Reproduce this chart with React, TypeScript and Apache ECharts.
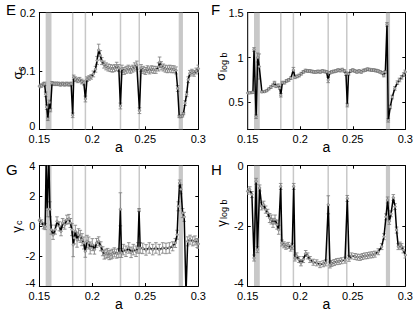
import React, { useEffect, useRef } from "react";
import * as echarts from "echarts";

type Pt = [number, number, number];

const xTicks = [0.15, 0.2, 0.25, 0.3];
const yTicksE = [0, 0.1, 0.2];
const yTicksF = [0.5, 1, 1.5];
const yTicksG = [-4, -2, 0, 2, 4];
const yTicksH = [-4, -2, 0];

const bandRanges: [number, number][] = [
  [0.156, 0.1615],
  [0.2815, 0.2855],
];
const edgeBandF: [number, number][] = [[0.15, 0.1507]];
const thinLines = [0.1815, 0.1935, 0.2266, 0.2443];

// [a, value, error]
const sigmaC: Pt[] = [
  [0.15, 0.074, 0.003], [0.152, 0.075, 0.003], [0.154, 0.077, 0.003], [0.155, 0.078, 0.003],
  [0.156, 0.06, 0.004], [0.157, 0.038, 0.004], [0.158, 0.018, 0.003], [0.1595, 0.046, 0.004],
  [0.1605, 0.033, 0.003], [0.162, 0.079, 0.003], [0.164, 0.078, 0.003], [0.166, 0.078, 0.003],
  [0.168, 0.078, 0.003], [0.17, 0.077, 0.003], [0.172, 0.078, 0.003], [0.174, 0.077, 0.003],
  [0.176, 0.078, 0.003], [0.178, 0.077, 0.003], [0.18, 0.078, 0.003], [0.1815, 0.024, 0.004],
  [0.1825, 0.089, 0.004], [0.184, 0.086, 0.004], [0.186, 0.084, 0.004], [0.188, 0.085, 0.004],
  [0.19, 0.082, 0.004], [0.192, 0.08, 0.004], [0.1935, 0.052, 0.005], [0.195, 0.086, 0.004],
  [0.197, 0.088, 0.004], [0.199, 0.09, 0.004], [0.201, 0.095, 0.005], [0.203, 0.103, 0.005],
  [0.2045, 0.118, 0.007], [0.206, 0.136, 0.01], [0.2075, 0.127, 0.008], [0.209, 0.117, 0.006],
  [0.211, 0.111, 0.006], [0.213, 0.108, 0.006], [0.215, 0.106, 0.006], [0.217, 0.105, 0.006],
  [0.219, 0.104, 0.006], [0.221, 0.105, 0.006], [0.223, 0.108, 0.007], [0.225, 0.105, 0.006],
  [0.2265, 0.04, 0.005], [0.228, 0.104, 0.006], [0.23, 0.1, 0.006], [0.232, 0.102, 0.006],
  [0.234, 0.104, 0.006], [0.236, 0.102, 0.006], [0.238, 0.104, 0.006], [0.24, 0.107, 0.007],
  [0.242, 0.11, 0.007], [0.2445, 0.032, 0.005], [0.246, 0.105, 0.006], [0.248, 0.102, 0.006],
  [0.25, 0.1, 0.006], [0.252, 0.103, 0.006], [0.254, 0.101, 0.006], [0.256, 0.103, 0.006],
  [0.258, 0.102, 0.006], [0.26, 0.102, 0.006], [0.2625, 0.107, 0.007], [0.2635, 0.115, 0.009],
  [0.265, 0.109, 0.007], [0.267, 0.106, 0.006], [0.269, 0.104, 0.006], [0.271, 0.103, 0.006],
  [0.273, 0.104, 0.006], [0.275, 0.103, 0.006], [0.277, 0.103, 0.006], [0.279, 0.101, 0.006],
  [0.2805, 0.07, 0.005], [0.282, 0.022, 0.002], [0.2835, 0.022, 0.002], [0.285, 0.023, 0.002],
  [0.286, 0.027, 0.002], [0.2875, 0.045, 0.004], [0.289, 0.06, 0.004], [0.2905, 0.085, 0.005],
  [0.292, 0.096, 0.005], [0.294, 0.098, 0.005], [0.296, 0.096, 0.005], [0.298, 0.1, 0.005],
  [0.3, 0.104, 0.006],
];

const sigmaLogB: Pt[] = [
  [0.15, 0.605, 0.01], [0.152, 0.607, 0.01], [0.154, 0.61, 0.01], [0.155, 0.612, 0.01],
  [0.156, 1.09, 0.02], [0.158, 0.34, 0.02], [0.1595, 1.0, 0.05], [0.161, 0.9, 0.14],
  [0.1635, 0.618, 0.01], [0.166, 0.62, 0.01], [0.168, 0.63, 0.01], [0.17, 0.65, 0.01],
  [0.172, 0.67, 0.015], [0.174, 0.69, 0.015], [0.1755, 0.72, 0.015], [0.177, 0.68, 0.015],
  [0.179, 0.69, 0.015], [0.1805, 0.66, 0.015], [0.1815, 0.58, 0.02], [0.183, 0.72, 0.015],
  [0.185, 0.72, 0.015], [0.187, 0.74, 0.015], [0.189, 0.75, 0.015], [0.191, 0.77, 0.015],
  [0.1935, 0.86, 0.03], [0.195, 0.78, 0.015], [0.197, 0.79, 0.015], [0.199, 0.8, 0.015],
  [0.201, 0.82, 0.015], [0.203, 0.84, 0.015], [0.205, 0.855, 0.015], [0.207, 0.85, 0.015],
  [0.209, 0.85, 0.015], [0.211, 0.845, 0.015], [0.213, 0.84, 0.015], [0.215, 0.84, 0.015],
  [0.217, 0.845, 0.015], [0.219, 0.84, 0.015], [0.221, 0.85, 0.015], [0.223, 0.845, 0.015],
  [0.225, 0.84, 0.015], [0.2266, 0.75, 0.03], [0.228, 0.83, 0.015], [0.23, 0.84, 0.015],
  [0.232, 0.845, 0.015], [0.234, 0.85, 0.015], [0.236, 0.86, 0.015], [0.238, 0.855, 0.015],
  [0.24, 0.865, 0.015], [0.242, 0.85, 0.015], [0.2435, 0.82, 0.02], [0.2448, 0.47, 0.02],
  [0.246, 0.82, 0.015], [0.248, 0.85, 0.015], [0.25, 0.86, 0.015], [0.252, 0.85, 0.015],
  [0.254, 0.84, 0.015], [0.256, 0.85, 0.015], [0.258, 0.84, 0.015], [0.26, 0.855, 0.015],
  [0.262, 0.86, 0.015], [0.264, 0.87, 0.015], [0.266, 0.865, 0.015], [0.268, 0.86, 0.015],
  [0.27, 0.86, 0.015], [0.272, 0.855, 0.015], [0.274, 0.85, 0.015], [0.276, 0.84, 0.015],
  [0.278, 0.83, 0.015], [0.2795, 0.8, 0.015], [0.281, 0.84, 0.015], [0.2826, 1.37, 0.02],
  [0.2838, 0.3, 0.02], [0.2857, 0.45, 0.02], [0.2876, 0.56, 0.02], [0.29, 0.655, 0.02],
  [0.2925, 0.72, 0.02], [0.2945, 0.75, 0.02], [0.2965, 0.78, 0.02], [0.2985, 0.81, 0.02],
  [0.3, 0.84, 0.02],
];

const gammaC: Pt[] = [
  [0.15, 0.37, 0.15], [0.152, 0.25, 0.15], [0.154, 0.0, 0.2], [0.1555, -0.05, 0.2],
  [0.1565, 4.5, 0.5], [0.1575, 1.1, 0.5], [0.159, 4.5, 0.5], [0.16, 1.1, 0.5],
  [0.1613, -0.25, 0.3], [0.163, -0.6, 0.3], [0.165, -0.25, 0.3], [0.1667, 0.3, 0.3],
  [0.169, -0.03, 0.3], [0.1705, -0.36, 0.3], [0.172, 0.19, 0.3], [0.174, 0.08, 0.3],
  [0.176, 0.41, 0.3], [0.178, 0.46, 0.3], [0.1793, 0.19, 0.3], [0.1808, -0.25, 0.4],
  [0.182, -1.25, 0.8], [0.183, -0.8, 0.4], [0.184, -0.36, 0.4], [0.1856, -0.92, 0.5],
  [0.187, -0.59, 0.4], [0.1887, -0.7, 0.4], [0.1903, -0.92, 0.4], [0.192, -1.14, 0.4],
  [0.1934, -1.69, 0.4], [0.195, -1.03, 0.4], [0.1966, -1.14, 0.4], [0.198, -1.47, 0.4],
  [0.2, -1.25, 0.4], [0.202, -1.58, 0.3], [0.204, -1.14, 0.3], [0.206, -1.03, 0.3],
  [0.208, -1.36, 0.3], [0.2098, -1.69, 0.3], [0.2113, -1.91, 0.3], [0.213, -1.85, 0.3],
  [0.2145, -1.8, 0.3], [0.216, -1.95, 0.3], [0.2176, -1.91, 0.3], [0.219, -1.85, 0.3],
  [0.2208, -1.76, 0.3], [0.223, -1.85, 0.3], [0.225, -1.8, 0.3], [0.2265, 1.1, 1.1],
  [0.2275, -1.8, 0.3], [0.2293, -1.58, 0.35], [0.2318, -1.69, 0.35], [0.2344, -1.47, 0.35],
  [0.2366, -1.76, 0.35], [0.2387, -1.58, 0.35], [0.2413, -1.69, 0.35], [0.243, -1.47, 0.35],
  [0.2441, 1.05, 0.1], [0.2452, -1.47, 0.35], [0.2476, -1.5, 0.35], [0.2507, -1.6, 0.35],
  [0.2538, -1.47, 0.35], [0.257, -1.58, 0.35], [0.26, -1.47, 0.35], [0.2632, -1.58, 0.35],
  [0.2664, -1.47, 0.35], [0.2695, -1.5, 0.35], [0.2727, -1.47, 0.35], [0.2758, -1.36, 0.3],
  [0.2783, -1.14, 0.3], [0.28, -0.59, 0.3], [0.2811, 1.3, 0.3], [0.2824, 2.85, 0.2],
  [0.2836, 2.43, 0.3], [0.2852, 0.85, 0.3], [0.2867, 0.6, 0.3], [0.2884, -4.5, 0.3],
  [0.29, -1.03, 0.3], [0.2922, -0.92, 0.3], [0.2947, -1.03, 0.3], [0.2969, -0.97, 0.3],
  [0.299, -1.14, 0.3], [0.3, -1.2, 0.3],
];

const gammaLogB: Pt[] = [
  [0.15, -0.85, 0.1], [0.152, -0.8, 0.1], [0.154, -0.96, 0.1], [0.156, -3.07, 0.1],
  [0.158, -0.52, 0.1], [0.1592, -2.79, 0.1], [0.1614, -0.74, 0.1], [0.1633, -1.35, 0.12],
  [0.1652, -1.3, 0.12], [0.1671, -1.46, 0.12], [0.169, -1.57, 0.12], [0.1709, -1.74, 0.15],
  [0.1725, -1.79, 0.15], [0.1741, -1.9, 0.15], [0.176, -1.79, 0.15], [0.1779, -1.96, 0.15],
  [0.1795, -2.13, 0.15], [0.1814, -0.69, 0.1], [0.1826, -2.57, 0.1], [0.1845, -2.63, 0.1],
  [0.1864, -2.68, 0.1], [0.1886, -2.65, 0.1], [0.1909, -2.74, 0.1], [0.1924, -2.68, 0.1],
  [0.1938, -0.69, 0.1], [0.195, -3.07, 0.1], [0.1966, -3.0, 0.1], [0.1988, -3.12, 0.1],
  [0.2007, -3.23, 0.1], [0.2029, -3.12, 0.1], [0.2052, -2.92, 0.1], [0.2071, -3.0, 0.1],
  [0.2093, -3.12, 0.1], [0.2124, -3.21, 0.1], [0.2157, -3.23, 0.1], [0.2188, -3.29, 0.1],
  [0.2219, -3.26, 0.1], [0.2242, -3.23, 0.1], [0.2267, -1.3, 0.3], [0.2283, -3.3, 0.1],
  [0.2299, -3.25, 0.1], [0.2323, -3.22, 0.1], [0.2347, -3.19, 0.1], [0.237, -3.18, 0.1],
  [0.2394, -3.16, 0.1], [0.2426, -3.14, 0.1], [0.2448, -1.09, 0.1], [0.2464, -3.08, 0.1],
  [0.2489, -3.0, 0.1], [0.2521, -3.02, 0.1], [0.2545, -3.04, 0.1], [0.2569, -3.05, 0.1],
  [0.2592, -3.02, 0.1], [0.2616, -3.0, 0.1], [0.264, -2.99, 0.1], [0.2664, -2.97, 0.1],
  [0.2687, -2.96, 0.1], [0.2711, -2.94, 0.1], [0.2743, -2.86, 0.1], [0.2775, -2.69, 0.1],
  [0.2797, -2.36, 0.1], [0.2816, -1.7, 0.1], [0.2832, -1.14, 0.1], [0.2848, -1.85, 0.1],
  [0.2864, -1.6, 0.1], [0.2886, -1.06, 0.1], [0.2902, -1.36, 0.1], [0.2917, -2.14, 0.1],
  [0.2933, -2.69, 0.1], [0.2949, -2.64, 0.1], [0.2965, -2.69, 0.1], [0.2981, -2.8, 0.1],
  [0.3, -2.97, 0.1],
];

const FONT = "'Liberation Sans', Arial, Helvetica, sans-serif";
const fmt = (v: number) => String(Number(v.toFixed(3)));

const panelDefs = [
  { letter: "E", pts: sigmaC, yMin: 0, yMax: 0.2, yTicks: yTicksE, sym: "σ", sub: "c",
    grid: { left: 39.3, top: 12.7, width: 159, height: 116.6 }, lab: [17.5, 75.5], letterPos: [6, 2] },
  { letter: "F", pts: sigmaLogB, yMin: 0.2, yMax: 1.5, yTicks: yTicksF, sym: "σ", sub: "log b",
    grid: { left: 247.7, top: 12.7, width: 157.6, height: 116.6 }, lab: [220.8, 76.7], letterPos: [211, 2] },
  { letter: "G", pts: gammaC, yMin: -4, yMax: 4, yTicks: yTicksG, sym: "γ", sub: "c",
    grid: { left: 39.3, top: 165.7, width: 159, height: 120.3 }, lab: [16, 229.5], letterPos: [6, 162] },
  { letter: "H", pts: gammaLogB, yMin: -4, yMax: 0, yTicks: yTicksH, sym: "γ", sub: "log b",
    grid: { left: 247.7, top: 165.7, width: 157.6, height: 120.3 }, lab: [221, 223.5], letterPos: [211, 162] },
];

function buildOption() {
  const grids: any[] = [];
  const xAxes: any[] = [];
  const yAxes: any[] = [];
  const series: any[] = [];
  const graphics: any[] = [];

  panelDefs.forEach((p, i) => {
    grids.push({ ...p.grid, containLabel: false, outerBoundsMode: "none" });
    const axisLine = { show: true, onZero: false, lineStyle: { color: "#000", width: 1 } };
    const baseX = {
      type: "value", gridIndex: i, min: 0.15, max: 0.3,
      axisLine, splitLine: { show: false },
      axisTick: { show: true, inside: true, length: 3, customValues: xTicks, lineStyle: { color: "#000" } },
    };
    xAxes.push({
      ...baseX, position: "bottom",
      axisLabel: { customValues: xTicks, formatter: fmt, fontSize: 11, lineHeight: 10, color: "#000", margin: 5, fontFamily: FONT },
    });
    xAxes.push({ ...baseX, position: "top", axisLabel: { show: false } });
    const baseY = {
      type: "value", gridIndex: i, min: p.yMin, max: p.yMax,
      axisLine, splitLine: { show: false },
      axisTick: { show: true, inside: true, length: 3, customValues: p.yTicks, lineStyle: { color: "#000" } },
    };
    const yMinVal = p.yMin;
    yAxes.push({
      ...baseY, position: "left",
      axisLabel: {
        customValues: p.yTicks,
        formatter: (v: number) => (Math.abs(v - yMinVal) < 1e-9 ? `{lo|${fmt(v)}}` : fmt(v)),
        fontSize: 11, lineHeight: 8, color: "#000", margin: 4, fontFamily: FONT,
        rich: { lo: { fontSize: 11, lineHeight: 8, color: "#000", fontFamily: FONT, padding: [0, 0, 6, 0] } },
      },
    });
    yAxes.push({ ...baseY, position: "right", axisLabel: { show: false } });

    const xi = i * 2;
    const yi = i * 2;
    const yMin = p.yMin;

    const bandData = bandRanges.map((b) => [b[0], b[1], yMin, 0]);
    if (p.letter === "F") edgeBandF.forEach((b) => bandData.push([b[0], b[1], yMin, 1]));
    series.push({
      type: "custom", xAxisIndex: xi, yAxisIndex: yi, z: 1, clip: false, silent: true,
      data: bandData, encode: { x: [0, 1], y: 2 },
      renderItem: (params: any, api: any) => {
        const x0 = api.coord([api.value(0), yMin])[0];
        const x1 = api.coord([api.value(1), yMin])[0];
        const cs = params.coordSys;
        return {
          type: "rect",
          shape: { x: x0, y: cs.y, width: x1 - x0, height: cs.height },
          style: { fill: api.value(3) === 1 ? "#8c8c8c" : "#c8c8c8" },
        };
      },
    });
    series.push({
      type: "custom", xAxisIndex: xi, yAxisIndex: yi, z: 1, clip: false, silent: true,
      data: thinLines.map((v) => [v, yMin]), encode: { x: 0, y: 1 },
      renderItem: (params: any, api: any) => {
        const x = api.coord([api.value(0), yMin])[0];
        const cs = params.coordSys;
        return {
          type: "line",
          shape: { x1: x, y1: cs.y, x2: x, y2: cs.y + cs.height },
          style: { stroke: "#c8c8c8", lineWidth: 1.5 },
        };
      },
    });
    series.push({
      type: "custom", xAxisIndex: xi, yAxisIndex: yi, z: 2, clip: true, silent: true,
      data: p.pts.map((d) => [d[0], d[1] - d[2], d[1] + d[2]]), encode: { x: 0, y: [1, 2] },
      renderItem: (params: any, api: any) => {
        const x = api.value(0);
        const lo = api.coord([x, api.value(1)]);
        const hi = api.coord([x, api.value(2)]);
        const w = 1.8;
        const style = { stroke: "#7a7a7a", lineWidth: 0.8 };
        return {
          type: "group",
          children: [
            { type: "line", shape: { x1: lo[0], y1: lo[1], x2: hi[0], y2: hi[1] }, style },
            { type: "line", shape: { x1: lo[0] - w, y1: lo[1], x2: lo[0] + w, y2: lo[1] }, style },
            { type: "line", shape: { x1: hi[0] - w, y1: hi[1], x2: hi[0] + w, y2: hi[1] }, style },
          ],
        };
      },
    });
    series.push({
      type: "line", xAxisIndex: xi, yAxisIndex: yi, z: 3, silent: true,
      data: p.pts.map((d) => [d[0], d[1]]),
      showSymbol: true, showAllSymbol: true, symbol: "circle", symbolSize: 2.6,
      itemStyle: { color: "#b0b0b0", borderColor: "#555", borderWidth: 0.4 },
      lineStyle: { color: "#000", width: 1.5 },
    });
    // rotated y-axis title (symbol + subscript)
    const lab = p.lab;
    const sym = p.sym;
    const sub = p.sub;
    series.push({
      type: "custom", xAxisIndex: xi, yAxisIndex: yi, z: 5, clip: false, silent: true,
      data: [[0.15, yMin]], encode: { x: 0, y: 1 },
      renderItem: () => ({
        type: "group",
        x: lab[0],
        y: lab[1],
        rotation: Math.PI / 2,
        children: [
          { type: "text", x: 0, y: 0,
            style: { text: sym, fontSize: 13, fill: "#000", fontFamily: FONT, align: "center", verticalAlign: "middle" } },
          { type: "text", x: 4.6, y: 3,
            style: { text: sub, fontSize: 9, fill: "#000", fontFamily: FONT, align: "left", verticalAlign: "middle" } },
        ],
      }),
    });

    graphics.push({
      type: "text", left: p.letterPos[0], top: p.letterPos[1],
      style: { text: p.letter, fontSize: 15, fill: "#000", fontFamily: FONT },
    });
    const g = p.grid;
    graphics.push({
      type: "text", x: g.left + g.width / 2, y: g.top + g.height + 17.5,
      style: { text: "a", fontSize: 14, fill: "#000", fontFamily: FONT, align: "center", verticalAlign: "middle" },
    });
  });

  return {
    animation: false,
    backgroundColor: "#fff",
    textStyle: { fontFamily: FONT },
    grid: grids,
    xAxis: xAxes,
    yAxis: yAxes,
    series,
    graphic: graphics,
  };
}

export default function App() {
  const ref = useRef<HTMLDivElement>(null);
  useEffect(() => {
    if (!ref.current) return;
    const chart = echarts.init(ref.current, undefined, { renderer: "svg" });
    chart.setOption(buildOption() as any);
    return () => chart.dispose();
  }, []);
  return (
    <div
      ref={ref}
      style={{ position: "fixed", left: 0, top: 0, width: 415, height: 312, background: "#fff" }}
    />
  );
}
